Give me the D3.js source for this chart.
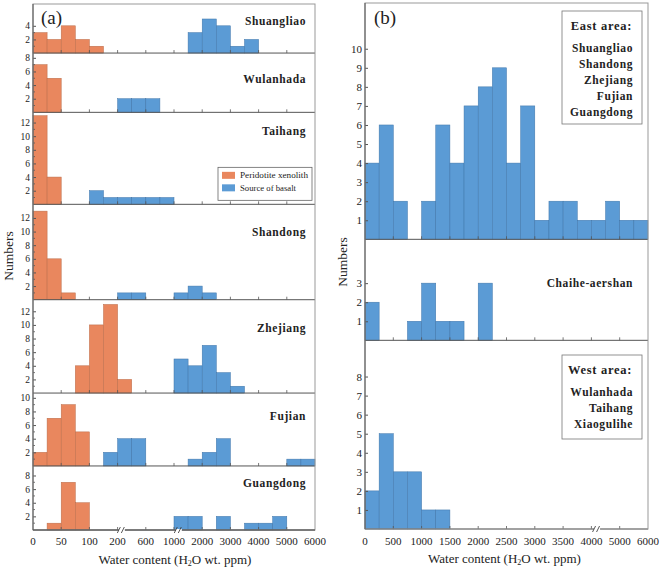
<!DOCTYPE html>
<html><head><meta charset="utf-8">
<script src="https://cdn.jsdelivr.net/npm/d3@7"></script>
<style>body{margin:0;background:#fff}svg{display:block}text{font-family:"Liberation Serif","Times New Roman","DejaVu Serif",serif;fill:#222}</style>
</head><body><svg id="c" width="661" height="569"></svg>
<script>
// ---------- DATA ----------
const edgesA = [0,25,50,75,100,150,200,400,600,800,1000,1500,2000,2500,3000,3500,4000,4500,5000,5500,6000];
const xTicksA = [0,50,100,200,600,1000,2000,3000,4000,5000,6000];
const sitesA = ["Shuangliao","Wulanhada","Taihang","Shandong","Zhejiang","Fujian","Guangdong"];
const yMaxA = [7.2, 8.7, 13.5, 14, 13.7, 10.7, 9.4];
const yTickTopA = [4, 8, 12, 12, 12, 10, 8];
const shuangliaoXen = [3,2,4,2,1,0,0,0,0,0,0,0,0,0,0,0,0,0,0,0];
const shuangliaoBas = [0,0,0,0,0,0,0,0,0,0,0,3,5,4,1,2,0,0,0,0];
const wulanhadaXen  = [7,5,0,0,0,0,0,0,0,0,0,0,0,0,0,0,0,0,0,0];
const wulanhadaBas  = [0,0,0,0,0,0,2,2,2,0,0,0,0,0,0,0,0,0,0,0];
const taihangXen    = [13,4,0,0,0,0,0,0,0,0,0,0,0,0,0,0,0,0,0,0];
const taihangBas    = [0,0,0,0,2,1,1,1,1,1,0,0,0,0,0,0,0,0,0,0];
const shandongXen   = [13,6,1,0,0,0,0,0,0,0,0,0,0,0,0,0,0,0,0,0];
const shandongBas   = [0,0,0,0,0,0,1,1,0,0,1,2,1,0,0,0,0,0,0,0];
const zhejiangXen   = [0,0,0,4,10,13,2,0,0,0,0,0,0,0,0,0,0,0,0,0];
const zhejiangBas   = [0,0,0,0,0,0,0,0,0,0,5,4,7,3,1,0,0,0,0,0];
const fujianXen     = [2,7,9,5,0,0,0,0,0,0,0,0,0,0,0,0,0,0,0,0];
const fujianBas     = [0,0,0,0,0,2,4,4,0,0,0,1,2,4,0,0,0,0,1,1];
const guangdongXen  = [0,1,7,4,0,0,0,0,0,0,0,0,0,0,0,0,0,0,0,0];
const guangdongBas  = [0,0,0,0,0,0,0,0,0,0,2,2,0,2,0,1,1,2,0,0];
const xenA = [shuangliaoXen,wulanhadaXen,taihangXen,shandongXen,zhejiangXen,fujianXen,guangdongXen];
const basA = [shuangliaoBas,wulanhadaBas,taihangBas,shandongBas,zhejiangBas,fujianBas,guangdongBas];
const legendLabels = ["Peridotite xenolith","Source of basalt"];

const edgesB = [0,250,500,750,1000,1250,1500,1750,2000,2250,2500,2750,3000,3250,3500,3750,4000,4500,5000,5500,6000];
const xTicksB = [0,500,1000,1500,2000,2500,3000,3500,4000,5000,6000];
const eastCounts   = [4,6,2,0,2,6,4,7,8,9,4,7,1,2,2,1,1,2,1,1];
const chaiheCounts = [2,0,0,1,3,1,1,0,3,0,0,0,0,0,0,0,0,0,0,0];
const westCounts   = [2,5,3,3,1,1,0,0,0,0,0,0,0,0,0,0,0,0,0,0];
const groupsB = [eastCounts, chaiheCounts, westCounts];
const yMaxB = [12.4, 5.3, 9.9];
const yTickTopB = [10, 3, 8];
const eastSites = ["Shuangliao","Shandong","Zhejiang","Fujian","Guangdong"];
const westSites = ["Wulanhada","Taihang","Xiaogulihe"];

// ---------- STYLE / LAYOUT ----------
const ORANGE="#E9875E", ORANGE_E="#B96A47", BLUE="#5B9BD5", BLUE_E="#3F75A9";
const svg = d3.select("#c");
const A = {x0:33, x1:315, top:4, bottom:530};
const B = {x0:365, x1:648, top:3, bottom:529};
const labelOffA = [16.7, 26, 18.7, 27.7, 28, 23, 16.7];

function drawBars(g, edges, counts, x, y, fill, stroke){
  const d = counts.map((c,i)=>({x0:edges[i],x1:edges[i+1],c})).filter(o=>o.c>0);
  g.selectAll(null).data(d).enter().append("rect")
    .attr("x",o=>x(o.x0)).attr("width",o=>x(o.x1)-x(o.x0))
    .attr("y",o=>y(o.c)).attr("height",o=>y(0)-y(o.c))
    .attr("fill",fill).attr("stroke",stroke).attr("stroke-width",0.5);
}
function xTickMarks(g, x, ticks, yb){
  g.selectAll(null).data(ticks.slice(1,-1)).enter().append("line")
    .attr("x1",d=>x(d)).attr("x2",d=>x(d)).attr("y1",yb).attr("y2",yb-3)
    .attr("stroke","#555").attr("stroke-width",0.8);
}
function yAxis(g, y, x0, top, fs, minor){
  const ticks = d3.range(minor?2:1, top+1, minor?2:1);
  const ax = d3.axisLeft(y).tickValues(ticks).tickSize(-3).tickPadding(3).tickFormat(d3.format("d"));
  const a = g.append("g").attr("transform",`translate(${x0},0)`).call(ax);
  a.attr("font-family",null);
  a.select(".domain").remove();
  a.selectAll("line").attr("stroke","#555");
  a.selectAll("text").attr("font-size",fs).attr("fill","#222");
  if(minor){
    g.selectAll(null).data(d3.range(1, top, 2)).enter().append("line")
      .attr("x1",x0).attr("x2",x0+2).attr("y1",d=>y(d)).attr("y2",d=>y(d)).attr("stroke","#555").attr("stroke-width",0.8);
  }
}
function breakMark(g, cx, yb){
  g.append("rect").attr("x",cx-3).attr("y",yb-1).attr("width",6).attr("height",2).attr("fill","#fff");
  [-3,1].forEach(o=>g.append("line").attr("x1",cx+o-1.5).attr("y1",yb+3).attr("x2",cx+o+1.5).attr("y2",yb-3)
    .attr("stroke","#444").attr("stroke-width",0.9));
}

// ---------- PANEL A ----------
const xA = d3.scaleLinear().domain(xTicksA).range(xTicksA.map((d,i)=>A.x0+i*(A.x1-A.x0)/(xTicksA.length-1)));
const gA = svg.append("g");
const totA = d3.sum(yMaxA), pxA = (A.bottom-A.top)/totA;
let cur = A.top;
sitesA.forEach((s,i)=>{
  const h = yMaxA[i]*pxA, yb = cur+h;
  const y = d3.scaleLinear().domain([0,yMaxA[i]]).range([yb,cur]);
  drawBars(gA, edgesA, xenA[i], xA, y, ORANGE, ORANGE_E);
  drawBars(gA, edgesA, basA[i], xA, y, BLUE, BLUE_E);
  yAxis(gA, y, A.x0, yTickTopA[i], 9.5, true);
  xTickMarks(gA, xA, xTicksA, yb);
  gA.append("line").attr("x1",A.x0).attr("x2",A.x1).attr("y1",yb).attr("y2",yb).attr("stroke","#555").attr("stroke-width",1);
  gA.append("text").attr("x",A.x1-9).attr("y",cur+labelOffA[i]).attr("dy","0.35em").attr("text-anchor","end")
    .attr("font-size",11.5).attr("font-weight","bold").attr("letter-spacing",0.6).text(s);
  if(s==="Taihang"){
    const lg = gA.append("g").attr("transform",`translate(218,${cur+55})`);
    lg.append("rect").attr("width",94).attr("height",33).attr("fill","#fff").attr("stroke","#666").attr("stroke-width",0.8);
    [[ORANGE,ORANGE_E],[BLUE,BLUE_E]].forEach((c,k)=>{
      lg.append("rect").attr("x",4).attr("y",8+k*12.5-3.5).attr("width",13).attr("height",7).attr("fill",c[0]);
      lg.append("text").attr("x",22).attr("y",8+k*12.5).attr("dy","0.35em").attr("font-size",9)
        .attr("textLength", k===0?68:56).attr("lengthAdjust","spacingAndGlyphs").text(legendLabels[k]);
    });
  }
  cur = yb;
});
gA.append("rect").attr("x",A.x0).attr("y",A.top).attr("width",A.x1-A.x0).attr("height",A.bottom-A.top)
  .attr("fill","none").attr("stroke","#999").attr("stroke-width",1);
gA.append("line").attr("x1",A.x0).attr("x2",A.x0).attr("y1",A.top).attr("y2",A.bottom).attr("stroke","#555");
gA.append("line").attr("x1",A.x0).attr("x2",A.x1).attr("y1",A.bottom).attr("y2",A.bottom).attr("stroke","#555");
gA.selectAll(null).data(xTicksA).enter().append("text").attr("x",d=>xA(d)).attr("y",A.bottom+15)
  .attr("text-anchor","middle").attr("font-size",11).text(d=>d);
breakMark(gA, xA(260), A.bottom);
breakMark(gA, xA(1170), A.bottom);
gA.append("text").attr("x",(A.x0+A.x1)/2+1).attr("y",A.bottom+34).attr("text-anchor","middle").attr("font-size",13)
  .html('Water content (H<tspan font-size="8" dy="2">2</tspan><tspan dy="-2">O wt. ppm)</tspan>');
gA.append("text").attr("transform","translate(13,256) rotate(-90)").attr("text-anchor","middle").attr("font-size",13.5).text("Numbers");
gA.append("text").attr("x",41).attr("y",24).attr("font-size",19).text("(a)");

// ---------- PANEL B ----------
const xB = d3.scaleLinear().domain(xTicksB).range(xTicksB.map((d,i)=>B.x0+i*(B.x1-B.x0)/(xTicksB.length-1)));
const gB = svg.append("g");
const pxB = (B.bottom-B.top)/d3.sum(yMaxB);
cur = B.top;
groupsB.forEach((cnt,i)=>{
  const yb = cur + yMaxB[i]*pxB;
  const y = d3.scaleLinear().domain([0,yMaxB[i]]).range([yb,cur]);
  drawBars(gB, edgesB, cnt, xB, y, BLUE, BLUE_E);
  yAxis(gB, y, B.x0, yTickTopB[i], 11, false);
  xTickMarks(gB, xB, xTicksB, yb);
  gB.append("line").attr("x1",B.x0).attr("x2",B.x1).attr("y1",yb).attr("y2",yb).attr("stroke","#555").attr("stroke-width",1);
  cur = yb;
});
gB.append("rect").attr("x",B.x0).attr("y",B.top).attr("width",B.x1-B.x0).attr("height",B.bottom-B.top)
  .attr("fill","none").attr("stroke","#999").attr("stroke-width",1);
gB.append("line").attr("x1",B.x0).attr("x2",B.x0).attr("y1",B.top).attr("y2",B.bottom).attr("stroke","#555");
gB.selectAll(null).data(xTicksB).enter().append("text").attr("x",d=>xB(d)).attr("y",B.bottom+16)
  .attr("text-anchor","middle").attr("font-size",11).text(d=>d);
breakMark(gB, xB(4200), B.bottom);
gB.append("text").attr("x",(B.x0+B.x1)/2-2).attr("y",B.bottom+34).attr("text-anchor","middle").attr("font-size",13)
  .html('Water content (H<tspan font-size="8" dy="2">2</tspan><tspan dy="-2">O wt. ppm)</tspan>');
gB.append("text").attr("transform","translate(347,262) rotate(-90)").attr("text-anchor","middle").attr("font-size",13.5).text("Numbers");
gB.append("text").attr("x",374).attr("y",24).attr("font-size",19).text("(b)");

function areaBox(y0, h, title, items){
  const g = gB.append("g");
  g.append("rect").attr("x",562).attr("y",y0).attr("width",80).attr("height",h).attr("fill","#fff").attr("stroke","#777").attr("stroke-width",0.8);
  g.append("text").attr("x",632).attr("y",y0+15).attr("dy","0.35em").attr("text-anchor","end").attr("font-size",12.5)
    .attr("font-weight","bold").attr("letter-spacing",0.7).text(title);
  g.selectAll(null).data(items).enter().append("text").attr("x",633).attr("y",(d,k)=>y0+37+k*16).attr("dy","0.35em")
    .attr("text-anchor","end").attr("font-size",11.5).attr("font-weight","bold").attr("letter-spacing",0.6).text(d=>d);
}
areaBox(11, 113, "East area:", eastSites);
areaBox(355, 84, "West area:", westSites);
gB.append("text").attr("x",633).attr("y",282.5).attr("dy","0.35em").attr("text-anchor","end").attr("font-size",11.5)
  .attr("font-weight","bold").attr("letter-spacing",0.6).text("Chaihe-aershan");
</script></body></html>
